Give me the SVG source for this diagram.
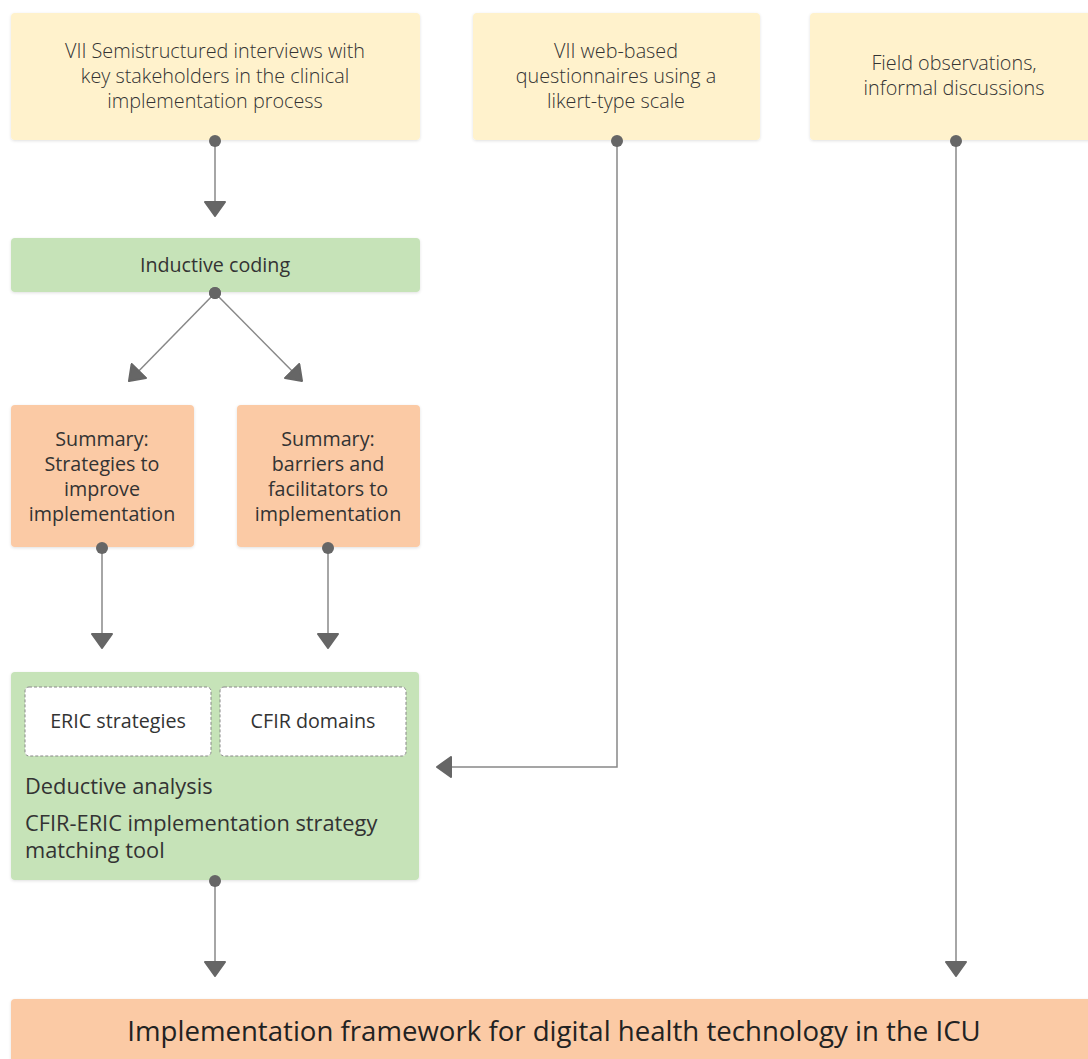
<svg xmlns="http://www.w3.org/2000/svg" width="1088" height="1059" viewBox="0 0 1088 1059">
<defs>
<filter id="sh" x="-5%" y="-5%" width="110%" height="115%">
<feDropShadow dx="0" dy="1" stdDeviation="1.5" flood-color="#000" flood-opacity="0.12"/>
</filter>
<marker id="ah" viewBox="0 0 16 22" refX="15" refY="11" markerWidth="16" markerHeight="22" markerUnits="userSpaceOnUse" orient="auto">
<path d="M1,1 L15,11 L1,21 Z" fill="#666" stroke="#666" stroke-width="2" stroke-linejoin="round"/>
</marker>
<marker id="dot" viewBox="0 0 12 12" refX="6" refY="6" markerWidth="12" markerHeight="12" markerUnits="userSpaceOnUse">
<circle cx="6" cy="6" r="6" fill="#666"/>
</marker>
</defs>
<style>
text{font-family:"Open Sans","Noto Sans","Liberation Sans",sans-serif;fill:#333;font-weight:400;}
.t{font-size:19.7px;text-anchor:middle;}
.l{font-size:19.8px;font-weight:300;}
.y{fill:#fff2cc;}
.g{fill:#c6e3b8;}
.o{fill:#fbcaa5;}
.c{fill:none;stroke:#888;stroke-width:1.5;marker-start:url(#dot);marker-end:url(#ah);}
.in{fill:#fff;stroke:#888;stroke-width:1;stroke-dasharray:3,2;}
.d{font-size:21.8px;}
</style>
<rect width="1088" height="1059" fill="#fff"/>
<g id="n1"><rect class="y" x="11" y="13" width="409" height="127" rx="4" filter="url(#sh)"/>
<text class="t l" x="215" y="58">VII Semistructured interviews with</text>
<text class="t l" x="215" y="83">key stakeholders in the clinical</text>
<text class="t l" x="215" y="108">implementation process</text></g>
<g id="n2"><rect class="y" x="473" y="13" width="287" height="127" rx="4" filter="url(#sh)"/>
<text class="t l" x="616" y="58">VII web-based</text>
<text class="t l" x="616" y="83">questionnaires using a</text>
<text class="t l" x="616" y="108">likert-type scale</text></g>
<g id="n3"><rect class="y" x="810" y="13" width="290" height="127" rx="4" filter="url(#sh)"/>
<text class="t l" x="954" y="70">Field observations,</text>
<text class="t l" x="954" y="95">informal discussions</text></g>
<g id="n4"><rect class="g" x="11" y="238" width="409" height="54" rx="4" filter="url(#sh)"/>
<text class="t" x="215" y="272">Inductive coding</text></g>
<g id="n5"><rect class="o" x="11" y="405" width="183" height="142" rx="4" filter="url(#sh)"/>
<text class="t" x="102" y="446">Summary:</text>
<text class="t" x="102" y="471">Strategies to</text>
<text class="t" x="102" y="496">improve</text>
<text class="t" x="102" y="521">implementation</text></g>
<g id="n6"><rect class="o" x="237" y="405" width="183" height="142" rx="4" filter="url(#sh)"/>
<text class="t" x="328" y="446">Summary:</text>
<text class="t" x="328" y="471">barriers and</text>
<text class="t" x="328" y="496">facilitators to</text>
<text class="t" x="328" y="521">implementation</text></g>
<g id="n7"><rect class="g" x="11" y="672" width="408" height="208" rx="4" filter="url(#sh)"/>
<rect class="in" x="25" y="687" width="186" height="69" rx="4"/>
<text class="t" x="118" y="728">ERIC strategies</text>
<rect class="in" x="220" y="687" width="186" height="69" rx="4"/>
<text class="t" x="313" y="728">CFIR domains</text>
<text class="d" x="25" y="794">Deductive analysis</text>
<text class="d" x="25" y="831">CFIR-ERIC implementation strategy</text>
<text class="d" x="25" y="858">matching tool</text></g>
<g id="n8"><rect class="o" x="11" y="999" width="1090" height="70" rx="4" filter="url(#sh)"/>
<text x="554" y="1041" style="font-size:27.6px;text-anchor:middle;fill:#222">Implementation framework for digital health technology in the ICU</text></g>
<g id="connectors">
<path class="c" d="M215,141 L215,216"/>
<path class="c" d="M215,293 L129,381"/>
<path class="c" d="M215,293 L302,381"/>
<path class="c" d="M102,548 L102,648"/>
<path class="c" d="M328,548 L328,648"/>
<path class="c" d="M617,141 L617,767 L437,767"/>
<path class="c" d="M956,141 L956,976"/>
<path class="c" d="M215,881 L215,976"/>
</g>
</svg>
